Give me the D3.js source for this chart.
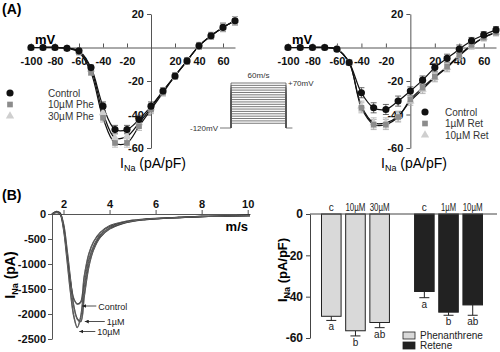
<!DOCTYPE html>
<html>
<head>
<meta charset="utf-8">
<script src="https://cdn.jsdelivr.net/npm/d3@7"></script>
<style>
body { margin: 0; background: #fff; }
svg { font-family: "Liberation Sans", Arial, sans-serif; }
</style>
</head>
<body>
<svg id="fig" width="500" height="352"></svg>
<script>
// ---- panel A : I-V data (mV vs pA/pF) ----
const voltages = [-100,-90,-80,-70,-60,-50,-40,-30,-20,-10,0,10,20,30,40,50,60,70]
const pheControl = [0,0,0,-0.5,-2,-12,-35,-49,-49,-43,-35,-26,-17,-8,1,7,12,16]
const phe10 = [0,0,0,-0.5,-3,-15,-42,-57,-57,-47,-37,-27,-17,-8,1,7,12,16]
const phe30 = [0,0,0,-0.5,-2.5,-13,-39,-54,-53,-45,-36,-26,-17,-8,1,7,12,16]
const pheErr = [1,1,1,1,1,1.5,2.5,2.5,2.5,2.5,2.5,2,2,2,2,2,2.5,2.5]
const retControl = [0,0,0,0,-1,-9,-27,-36,-37,-32,-26,-19.5,-12,-6.5,-1,4,7.5,10.5]
const ret1 = [0,0,0,0,-1,-9,-36,-46,-46,-41.5,-31,-24,-17.5,-11.5,-4.5,1.5,6,9]
const ret10 = [0,0,0,0,-1,-9,-35,-45,-45,-41,-32,-25,-18,-12,-5,1,6,9]
const retErr = [1,1,1,1,1,1.5,3,3,3,3,2.5,2.5,2.5,2.5,2.5,2,2,2]
const ivXTicks = [-100,-80,-60,-40,-20,20,40,60]
const ivYTicks = [20,-20,-40,-60]

// stimulation protocol
const holdingV = -120
const stepVoltages = [-100,-90,-80,-70,-60,-50,-40,-30,-20,-10,0,10,20,30,40,50,60,70]

// ---- panel B : current traces (ms vs pA) ----
const traceTime = [1.5,1.7,1.85,2.0,2.15,2.3,2.45,2.6,2.75,2.9,3.1,3.3,3.6,4.0,4.5,5.0,5.5,6.0,7.0,8.0,9.0,10.1]
const traceControl = [0,50,20,-250,-800,-1350,-1700,-1800,-1760,-1250,-800,-560,-370,-240,-170,-125,-105,-90,-70,-50,-40,-30]
const trace1 = [0,40,10,-200,-700,-1300,-1850,-2100,-2150,-1650,-1050,-720,-460,-300,-200,-145,-115,-95,-70,-50,-40,-30]
const trace10 = [0,30,0,-300,-900,-1550,-2050,-2270,-2050,-1450,-920,-650,-420,-275,-190,-138,-110,-92,-70,-50,-40,-30]
const traceNames = ["Control","1µM","10µM"]
const traceXTicks = [2,4,6,8,10]
const traceYTicks = [0,-500,-1000,-1500,-2000,-2500]

// ---- panel B : peak current bars (pA/pF) ----
const barGroups = ["Phenanthrene","Retene"]
const barLabels = [["c","10µM","30µM"],["c","1µM","10µM"]]
const barValues = [[-49.5,-56.5,-52.5],[-37.5,-47.5,-44]]
const barErr = [[2,2.5,2.5],[3,1.5,5]]
const barLetters = [["a","b","ab"],["a","b","ab"]]
const barYTicks = [0,-20,-40,-60]

const svg = d3.select("#fig")
const plain = d => String(d)

function styleAxis(a, size, col){
    a.selectAll("text").attr("font-weight","bold").attr("font-size",size).attr("fill","#111")
    a.selectAll("path,line").attr("stroke",col)
}

// ---------- panel A ----------
function drawIV(series, errs, names, xr, legendX, legendY, textDx, labelX){
    const x = d3.scaleLinear().domain([-100,70]).range(xr)
    const y = d3.scaleLinear().domain([20,-60]).range([14,148])
    const g = svg.append("g")

    g.append("g")
    .attr("transform", "translate(0," + y(0) + ")")
    .call(d3.axisBottom(x).tickValues(ivXTicks).tickFormat(plain).tickSizeInner(-4).tickSizeOuter(0).tickPadding(10))
    .call(a => styleAxis(a, 11, "#555"))

    g.append("g")
    .attr("transform", "translate(" + x(0) + ",0)")
    .call(d3.axisLeft(y).tickValues(ivYTicks).tickFormat(plain).tickSize(4).tickSizeOuter(0).tickPadding(3))
    .call(a => styleAxis(a, 11, "#555"))

    g.append("text").attr("x", x(-100) + 4).attr("y", 44)
    .attr("font-weight","bold").attr("font-size",13).text("mV")

    var lab = g.append("text").attr("x", labelX).attr("y", 168)
    .attr("text-anchor","middle").attr("font-size",14)
    lab.append("tspan").text("I")
    lab.append("tspan").attr("font-size",9).attr("dy",3).text("Na")
    lab.append("tspan").attr("dy",-3).text(" (pA/pF)")

    var line = d3.line().x((d,i) => x(voltages[i])).y(d => y(d)).curve(d3.curveCatmullRom)
    var fills = ["#111","#8c8c8c","#cfcfcf"]

    series.forEach(function(s, k){
        g.append("path").datum(s).attr("d", line)
        .attr("fill","none").attr("stroke","#111").attr("stroke-width",1.2)
    })

    series.forEach(function(s, k){
        var eb = g.append("g").attr("stroke", k == 0 ? "#444" : "#aaa").attr("stroke-width",0.8)
        s.forEach(function(v, i){
            var cx = x(voltages[i])
            eb.append("line").attr("x1",cx).attr("x2",cx).attr("y1",y(v-errs[i])).attr("y2",y(v+errs[i]))
            eb.append("line").attr("x1",cx-3).attr("x2",cx+3).attr("y1",y(v-errs[i])).attr("y2",y(v-errs[i]))
            eb.append("line").attr("x1",cx-3).attr("x2",cx+3).attr("y1",y(v+errs[i])).attr("y2",y(v+errs[i]))
        })
    })

    var syms = [d3.symbolCircle, d3.symbolSquare, d3.symbolTriangle]
    var sizes = [40, 32, 30]
    // drug markers first, control on top
    ;[2,1,0].forEach(function(k){
        g.append("g").selectAll("path").data(series[k]).enter().append("path")
        .attr("d", d3.symbol().type(syms[k]).size(sizes[k]))
        .attr("transform", (d,i) => "translate(" + x(voltages[i]) + "," + y(d) + ")")
        .attr("fill", fills[k])
    })

    // legend
    names.forEach(function(n, k){
        var ly = legendY + k * 11.5
        g.append("path").attr("d", d3.symbol().type(syms[k]).size(sizes[k]))
        .attr("transform", "translate(" + legendX + "," + ly + ")").attr("fill", fills[k])
        g.append("text").attr("x", legendX + textDx).attr("y", ly + 3.5)
        .attr("font-size",10).attr("fill","#333").text(n)
    })
}

drawIV([pheControl, phe10, phe30], pheErr, ["Control","10µM Phe","30µM Phe"], [31,235], 10, 93, 38, 153)
drawIV([retControl, ret1, ret10], retErr, ["Control","1µM Ret","10µM Ret"], [288,496], 425, 112, 20, 414)

svg.append("text").attr("x",2).attr("y",14).attr("font-weight","bold").attr("font-size",14).text("(A)")

// stimulation protocol inset
var xs = d3.scaleLinear().domain([0,60]).range([231,286])
var ys = d3.scaleLinear().domain([holdingV,70]).range([128,83])
var proto = svg.append("g").attr("fill","none").attr("stroke","#555").attr("stroke-width",0.8)
proto.append("line").attr("x1",xs(-12)).attr("x2",xs(0)).attr("y1",ys(holdingV)).attr("y2",ys(holdingV))
proto.append("line").attr("x1",xs(60)).attr("x2",xs(67)).attr("y1",ys(holdingV)).attr("y2",ys(holdingV))
stepVoltages.forEach(function(v){
    proto.append("path").attr("d", "M" + xs(0) + "," + ys(holdingV) + "V" + ys(v) + "H" + xs(60) + "V" + ys(holdingV))
})
svg.append("text").attr("x", xs(30)).attr("y", 78).attr("text-anchor","middle").attr("font-size",8).attr("fill","#333").text("60m/s")
svg.append("text").attr("x", xs(60) + 2).attr("y", ys(70) + 3).attr("font-size",8).attr("fill","#333").text("+70mV")
svg.append("text").attr("x", xs(-12) - 2).attr("y", ys(holdingV) + 3).attr("text-anchor","end").attr("font-size",8).attr("fill","#333").text("-120mV")

// ---------- panel B : traces ----------
svg.append("text").attr("x",2).attr("y",200).attr("font-weight","bold").attr("font-size",14).text("(B)")

var xt = d3.scaleLinear().domain([1.5,10.1]).range([52,250])
var yt = d3.scaleLinear().domain([0,-2500]).range([214,339])

svg.append("g")
.attr("transform","translate(0," + yt(0) + ")")
.call(d3.axisTop(xt).tickValues(traceXTicks).tickFormat(plain).tickSize(4).tickSizeOuter(0).tickPadding(2))
.call(a => styleAxis(a, 11, "#555"))

svg.append("g")
.attr("transform","translate(" + xt(1.5) + ",0)")
.call(d3.axisLeft(yt).tickValues(traceYTicks).tickFormat(plain).tickSize(4).tickSizeOuter(0).tickPadding(2))
.call(a => styleAxis(a, 11, "#555"))

svg.append("text").attr("x",248).attr("y",231).attr("text-anchor","end")
.attr("font-weight","bold").attr("font-size",13).text("m/s")

var yl = svg.append("text").attr("transform","translate(15,275) rotate(-90)")
.attr("text-anchor","middle").attr("font-weight","bold").attr("font-size",14)
yl.append("tspan").text("I")
yl.append("tspan").attr("font-size",9).attr("dy",3).text("Na")
yl.append("tspan").attr("dy",-3).text(" (pA)")

var tline = d3.line().x((d,i) => xt(traceTime[i])).y(d => yt(d)).curve(d3.curveCatmullRom)
;[traceControl, trace1, trace10].forEach(function(tr){
    svg.append("path").datum(tr).attr("d", tline).attr("fill","none").attr("stroke","#222").attr("stroke-width",1.4)
    svg.append("path").datum(tr).attr("d", tline).attr("fill","none").attr("stroke","#ccc").attr("stroke-width",0.4)
})

svg.append("defs").append("marker").attr("id","arr").attr("viewBox","0 0 10 10")
.attr("refX",10).attr("refY",5).attr("markerWidth",5).attr("markerHeight",5).attr("orient","auto")
.append("path").attr("d","M0,0L10,5L0,10z").attr("fill","#222")

var tipOffsets = [[5,2],[4,0],[2,4]]
var labelDx = [14,20,16]
;[traceControl, trace1, trace10].forEach(function(tr, k){
    var i = d3.minIndex(tr)
    var tx = xt(traceTime[i]) + tipOffsets[k][0]
    var ty = yt(tr[i]) + tipOffsets[k][1]
    svg.append("line").attr("x1", tx + labelDx[k]).attr("x2", tx).attr("y1", ty).attr("y2", ty)
    .attr("stroke","#222").attr("stroke-width",0.8).attr("marker-end","url(#arr)")
    svg.append("text").attr("x", tx + labelDx[k] + 2).attr("y", ty + 3.5)
    .attr("font-size",9).attr("fill","#222").text(traceNames[k])
})

// ---------- panel B : bars ----------
var yb = d3.scaleLinear().domain([0,-60]).range([214,338])
var xg = d3.scaleBand().domain(barGroups).range([321.5,482.5]).paddingInner(0.27)
var xb = d3.scaleBand().domain([0,1,2]).range([0, xg.bandwidth()]).paddingInner(0.19)
var barFill = ["#d9d9d9","#222"]

svg.append("g")
.attr("transform","translate(310,0)")
.call(d3.axisLeft(yb).tickValues(barYTicks).tickFormat(plain).tickSize(4).tickSizeOuter(0).tickPadding(3))
.call(a => styleAxis(a, 12, "#444"))

var bl = svg.append("text").attr("transform","translate(287,270) rotate(-90)")
.attr("text-anchor","middle").attr("font-weight","bold").attr("font-size",13)
bl.append("tspan").text("I")
bl.append("tspan").attr("font-size",9).attr("dy",3).text("Na")
bl.append("tspan").attr("dy",-3).text(" (pA/pF)")

barGroups.forEach(function(grp, gi){
    var gg = svg.append("g").attr("transform","translate(" + xg(grp) + ",0)")
    barValues[gi].forEach(function(v, i){
        var bx = xb(i), bw = xb.bandwidth(), cx = bx + bw / 2
        var lo = v - barErr[gi][i]
        gg.append("line").attr("x1",cx).attr("x2",cx).attr("y1",yb(v)).attr("y2",yb(lo)).attr("stroke","#222").attr("stroke-width",1)
        gg.append("line").attr("x1",cx-5).attr("x2",cx+5).attr("y1",yb(lo)).attr("y2",yb(lo)).attr("stroke","#222").attr("stroke-width",1)
        gg.append("rect").attr("x",bx).attr("y",yb(0)).attr("width",bw).attr("height",yb(v)-yb(0))
        .attr("fill",barFill[gi]).attr("stroke","#222").attr("stroke-width",1)
        var t = gg.append("text").attr("x",cx).attr("y",211).attr("text-anchor","middle").attr("font-size",10)
        .attr("fill","#222").text(barLabels[gi][i])
        if (barLabels[gi][i].length > 1){
            t.attr("textLength", barLabels[gi][i].length * 5).attr("lengthAdjust","spacingAndGlyphs")
        }
        gg.append("text").attr("x",cx).attr("y",yb(lo)+10).attr("text-anchor","middle").attr("font-size",10).attr("fill","#222").text(barLetters[gi][i])
    })
})

svg.append("line").attr("x1",310).attr("x2",497).attr("y1",yb(0)).attr("y2",yb(0)).attr("stroke","#444").attr("stroke-width",1)

barGroups.forEach(function(grp, gi){
    var ly = 332 + gi * 10
    svg.append("rect").attr("x",403).attr("y",ly).attr("width",12).attr("height",7)
    .attr("fill",barFill[gi]).attr("stroke","#222").attr("stroke-width",0.8)
    svg.append("text").attr("x",420).attr("y",ly+7).attr("font-size",10).attr("fill","#222").text(grp)
})
</script>
</body>
</html>
